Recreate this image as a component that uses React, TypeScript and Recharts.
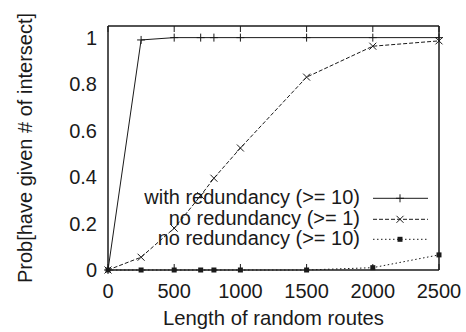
import React from "react"
import { LineChart, Line, XAxis, YAxis, Legend, Label } from "recharts"

const routeLengths = [0, 250, 500, 700, 800, 1000, 1500, 2000, 2500]
const withRedundancy10 = [0, 0.99, 1, 1, 1, 1, 1, 1, 1]
const noRedundancy1 = [0, 0.055, 0.18, 0.32, 0.395, 0.525, 0.83, 0.963, 0.986]
const noRedundancy10 = [0, 0, 0, 0, 0, 0, 0, 0.01, 0.065]

const xTicks = [0, 500, 1000, 1500, 2000, 2500]
const yTicks = [0, 0.2, 0.4, 0.6, 0.8, 1]

const seriesNames = ["with redundancy (>= 10)", "no redundancy (>= 1)", "no redundancy (>= 10)"]

const data = routeLengths.map((len, i) => ({
  len,
  a: withRedundancy10[i],
  b: noRedundancy1[i],
  c: noRedundancy10[i],
}))

const FONT = '"Liberation Sans", Arial, Helvetica, sans-serif'
const INK = "#1a1a1a"

const plus = (cx: number, cy: number) => (
  <>
    <line x1={cx - 4} y1={cy} x2={cx + 4} y2={cy} stroke={INK} strokeWidth={1} />
    <line x1={cx} y1={cy - 4} x2={cx} y2={cy + 4} stroke={INK} strokeWidth={1} />
  </>
)
const cross = (cx: number, cy: number) => (
  <>
    <line x1={cx - 3.5} y1={cy - 3.5} x2={cx + 3.5} y2={cy + 3.5} stroke={INK} strokeWidth={1} />
    <line x1={cx - 3.5} y1={cy + 3.5} x2={cx + 3.5} y2={cy - 3.5} stroke={INK} strokeWidth={1} />
  </>
)
const square = (cx: number, cy: number) => (
  <rect x={cx - 2.5} y={cy - 2.5} width={5} height={5} fill={INK} />
)

const markers = [plus, cross, square]
const dashes = [undefined, "4 2", "1.5 2.5"]

const dotOf = (idx: number) => (p: any) => (
  <g key={`d${idx}-${p.index}`}>{p.cx != null && markers[idx](p.cx, p.cy)}</g>
)

const noTick = () => <g />

function LegendBox() {
  return (
    <div style={{ fontFamily: FONT, fontSize: 20, color: INK }}>
      {seriesNames.map((name, i) => (
        <div key={name} style={{ display: "flex", height: 20.5, lineHeight: "20.5px" }}>
          <span style={{ display: "block", width: 230, textAlign: "right", whiteSpace: "nowrap" }}>{name}</span>
          <svg width={68} height={20.5} style={{ display: "block", overflow: "visible" }}>
            <line x1={13} y1={11.3} x2={68} y2={11.3} stroke={INK} strokeWidth={1} strokeDasharray={dashes[i]} />
            {markers[i](40, 11.3)}
          </svg>
        </div>
      ))}
    </div>
  )
}

export default function App() {
  const tickStyle = { fontSize: 20, fontFamily: FONT, fill: INK }
  return (
    <div style={{ position: "fixed", left: 0, top: 0, background: "#fff" }}>
      <LineChart width={466} height={332} data={data} margin={{ top: 26, right: 27, left: 0, bottom: 0 }}>
        <XAxis
          dataKey="len"
          type="number"
          domain={[0, 2500]}
          ticks={xTicks}
          height={62}
          tickLine={false}
          tickSize={0}
          tickMargin={14}
          tick={tickStyle}
          axisLine={{ stroke: INK, strokeWidth: 1.5 }}
        >
          <Label
            content={(p: any) => {
              const vb = p.viewBox
              return (
                <text x={vb.x + vb.width / 2} y={vb.y + 55} textAnchor="middle" fontSize={20.3} fontFamily={FONT} fill={INK}>
                  Length of random routes
                </text>
              )
            }}
          />
        </XAxis>
        <XAxis xAxisId="bin" dataKey="len" type="number" domain={[0, 2500]} ticks={xTicks} mirror tick={noTick} tickSize={6} tickLine={{ stroke: INK }} axisLine={false} />
        <XAxis xAxisId="top" orientation="top" dataKey="len" type="number" domain={[0, 2500]} ticks={xTicks} mirror tick={noTick} tickSize={6} tickLine={{ stroke: INK }} axisLine={{ stroke: INK, strokeWidth: 1.5 }} />
        <YAxis
          type="number"
          domain={[0, 1.05]}
          ticks={yTicks}
          width={108}
          tickLine={false}
          tickSize={0}
          tickMargin={11}
          tick={tickStyle}
          axisLine={{ stroke: INK, strokeWidth: 1.5 }}
        >
          <Label
            content={(p: any) => {
              const vb = p.viewBox
              const cy = vb.y + vb.height / 2
              return (
                <text x={25} y={cy} transform={`rotate(-90 25 ${cy})`} textAnchor="middle" dominantBaseline="central" fontSize={20} fontFamily={FONT} fill={INK}>
                  Prob[have given # of intersect]
                </text>
              )
            }}
          />
        </YAxis>
        <YAxis yAxisId="lin" type="number" domain={[0, 1.05]} ticks={yTicks} mirror tick={noTick} tickSize={6} tickLine={{ stroke: INK }} axisLine={false} />
        <YAxis yAxisId="right" orientation="right" type="number" domain={[0, 1.05]} ticks={yTicks} mirror tick={noTick} tickSize={6} tickLine={{ stroke: INK }} axisLine={{ stroke: INK, strokeWidth: 1.5 }} />
        <Legend
          layout="vertical"
          align="center"
          verticalAlign="middle"
          content={() => <LegendBox />}
          wrapperStyle={{ position: "absolute", left: 130, top: 187, width: 300, height: 62 }}
        />
        <Line dataKey="a" name={seriesNames[0]} stroke={INK} strokeWidth={1} dot={dotOf(0)} activeDot={false} isAnimationActive={false} />
        <Line dataKey="b" name={seriesNames[1]} stroke={INK} strokeWidth={1} strokeDasharray={dashes[1]} dot={dotOf(1)} activeDot={false} isAnimationActive={false} />
        <Line dataKey="c" name={seriesNames[2]} stroke={INK} strokeWidth={1} strokeDasharray={dashes[2]} dot={dotOf(2)} activeDot={false} isAnimationActive={false} />
      </LineChart>
    </div>
  )
}
